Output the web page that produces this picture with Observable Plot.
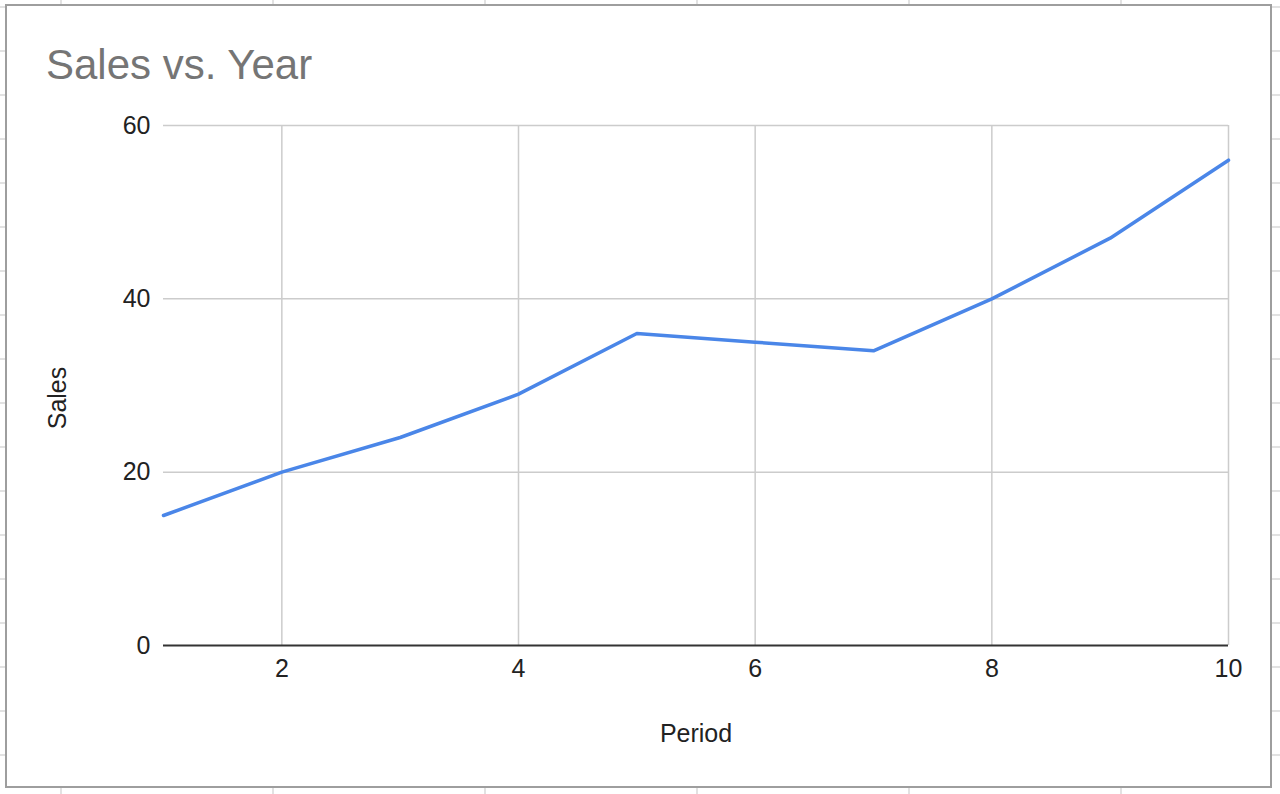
<!DOCTYPE html>
<html>
<head>
<meta charset="utf-8">
<script src="https://cdn.jsdelivr.net/npm/d3@7"></script>
<script src="https://cdn.jsdelivr.net/npm/@observablehq/plot@0.6"></script>
<style>
  html, body { margin: 0; padding: 0; width: 1280px; height: 794px; overflow: hidden; background: #fff; }
  body {
    position: relative;
    background-image:
      repeating-linear-gradient(to right, transparent 0, transparent 60px, #e2e2e2 60px, #e2e2e2 62px, transparent 62px, transparent 212px),
      repeating-linear-gradient(to bottom, transparent 0, transparent 6px, #e2e2e2 6px, #e2e2e2 8px, transparent 8px, transparent 44px);
    background-position: 0 0, 0 0;
    font-family: "Liberation Sans", Arial, sans-serif;
  }
  #box {
    position: absolute; left: 5px; top: 4px; width: 1263px; height: 780px;
    border: 2px solid #9e9e9e; background: #fff;
  }
  #title {
    position: absolute; left: 46px; top: 44px; font-size: 42px; color: #757575;
    font-family: "Liberation Sans", Arial, sans-serif; line-height: 1; white-space: nowrap;
  }
  #ylabel {
    position: absolute; left: 57px; top: 398px; font-size: 25px; color: #222;
    line-height: 1; white-space: nowrap;
    transform: translate(-50%, -50%) rotate(-90deg);
  }
  #chart { position: absolute; left: 0; top: 0; }
</style>
</head>
<body>
<div id="box"></div>
<div id="chart"></div>
<div id="title">Sales vs. Year</div>
<div id="ylabel">Sales</div>
<script>
const periods = [1, 2, 3, 4, 5, 6, 7, 8, 9, 10];
const sales = [15, 20, 24, 29, 36, 35, 34, 40, 47, 56];
const xTicks = [2, 4, 6, 8, 10];
const yTicks = [0, 20, 40, 60];

const data = periods.map((p, i) => ({period: p, sales: sales[i]}));

const chart = Plot.plot({
  width: 1280,
  height: 794,
  marginLeft: 163,
  marginRight: 52,
  marginTop: 125,
  marginBottom: 149,
  style: {fontFamily: "Liberation Sans, Arial, sans-serif", fontSize: "25px", color: "#222", background: "transparent"},
  x: {domain: [1, 10]},
  y: {domain: [0, 60]},
  marks: [
    Plot.gridX(xTicks, {stroke: "#cccccc", strokeOpacity: 1, strokeWidth: 1.5}),
    Plot.gridY(yTicks.filter(d => d > 0), {stroke: "#cccccc", strokeOpacity: 1, strokeWidth: 1.5}),
    Plot.ruleY([0], {stroke: "#333333", strokeWidth: 2}),
    Plot.axisX(xTicks, {tickSize: 0, tickPadding: 14, tickFormat: d => String(d), label: "Period", labelAnchor: "center", labelArrow: "none", labelOffset: 96, fill: "#222"}),
    Plot.axisY(yTicks, {tickSize: 0, tickPadding: 13, tickFormat: d => String(d), label: null, fill: "#222"}),
    Plot.line(data, {x: "period", y: "sales", stroke: "#4a86e8", strokeWidth: 3.5})
  ]
});
document.getElementById("chart").appendChild(chart);
</script>
</body>
</html>
